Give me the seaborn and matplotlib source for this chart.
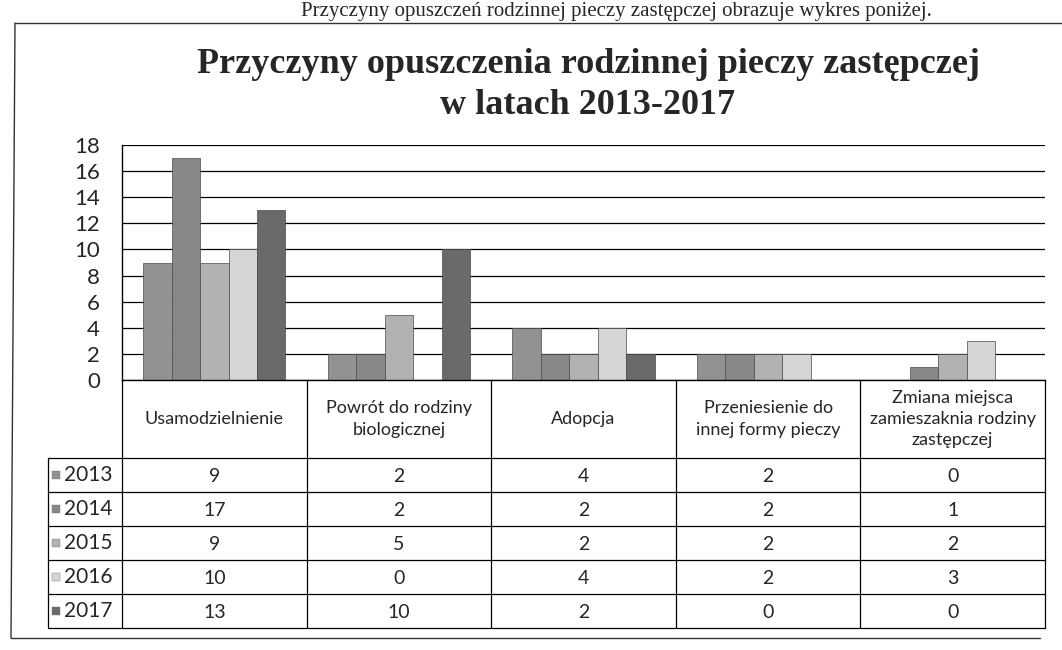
import pandas as pd
import seaborn as sns
import matplotlib.pyplot as plt
from matplotlib.lines import Line2D

categories = ["Usamodzielnienie", "Powrót do rodziny\nbiologicznej", "Adopcja",
              "Przeniesienie do\ninnej formy pieczy",
              "Zmiana miejsca\nzamieszaknia rodziny\nzastępczej"]
years = ["2013", "2014", "2015", "2016", "2017"]
v2013 = [9, 2, 4, 2, 0]
v2014 = [17, 2, 2, 2, 1]
v2015 = [9, 5, 2, 2, 2]
v2016 = [10, 0, 4, 2, 3]
v2017 = [13, 10, 2, 0, 0]
colors = ["#929292", "#888888", "#b2b2b2", "#d5d5d5", "#6a6a6a"]

series = [v2013, v2014, v2015, v2016, v2017]
rows = []
for y, vals in zip(years, series):
    for c, v in zip(categories, vals):
        rows.append({"cat": c, "year": y, "val": v})
df = pd.DataFrame(rows)

sns.set_style("white")
plt.rcParams["font.family"] = ["Lato", "DejaVu Sans"]

W, H = 1062, 650
fig = plt.figure(figsize=(W / 100, H / 100), dpi=100)

# bar chart
ax = fig.add_axes([122 / W, 1 - 380 / H, 923 / W, 235 / H])
sns.barplot(data=df, x="cat", y="val", hue="year", order=categories, hue_order=years,
            palette=colors, width=0.77, saturation=1, edgecolor="#4a4a4a", linewidth=0.5,
            legend=False, ax=ax)
ax.set_xlim(-0.5, 4.5)
ax.set_ylim(0, 18)
ax.set_yticks(range(0, 19, 2))
ax.set_xticks([])
ax.set_xlabel("")
ax.set_ylabel("")
ax.grid(axis="y", color="black", lw=0.9)
ax.set_axisbelow(True)
for s in ["top", "right"]:
    ax.spines[s].set_visible(False)
for s in ["left", "bottom"]:
    ax.spines[s].set_color("black")
    ax.spines[s].set_linewidth(1)
ax.tick_params(axis="y", length=0, pad=16, labelsize=16)

# data table under the chart
tab = fig.add_axes([122 / W, 1 - 628 / H, 923 / W, 248 / H])
tab.set_xlim(-0.5, 4.5)
tab.set_ylim(248, 0)
tab.axis("off")
head_h, row_h = 78, 34
leg_x = -0.5 - 74 / 184.6
kw = dict(color="black", lw=0.9, clip_on=False)
for i in range(6):
    tab.plot([i - 0.5, i - 0.5], [0, 248], **kw)
for r in range(6):
    yy = head_h + r * row_h
    tab.plot([leg_x, 4.5], [yy, yy], **kw)
tab.plot([leg_x, leg_x], [head_h, 248], **kw)

for i, c in enumerate(categories):
    tab.text(i, head_h / 2, c, ha="center", va="center", fontsize=13, linespacing=1.4)

for r, (y, vals) in enumerate(zip(years, series)):
    yc = head_h + r * row_h + row_h / 2
    tab.scatter([-0.5 - 66 / 184.6], [yc], marker="s", s=40, color=colors[r],
                edgecolor="#777777", linewidth=0.3, clip_on=False)
    tab.text(-0.5 - 58 / 184.6, yc, y, ha="left", va="center", fontsize=15, clip_on=False)
    for i, v in enumerate(vals):
        tab.text(i, yc + 2, str(v), ha="center", va="center", fontsize=14)

# title
fig.text(588 / W, 1 - 85 / H, "Przyczyny opuszczenia rodzinnej pieczy zastępczej\nw latach 2013-2017",
         ha="center", va="center", fontsize=26, fontweight="bold",
         family=["Liberation Serif", "DejaVu Serif"], linespacing=1.3)

# sentence from the page above the chart
fig.text(932 / W, 1 - 16 / H, "Przyczyny opuszczeń rodzinnej pieczy zastępczej obrazuje wykres poniżej.",
         ha="right", va="baseline", fontsize=15, family=["Liberation Serif", "DejaVu Serif"])

# outer frame
for xs, ys in [([15, W], [23, 23]), ([15, 11], [23, 638]), ([11, 1040], [638, 638])]:
    fig.add_artist(Line2D([x / W for x in xs], [1 - y / H for y in ys],
                          transform=fig.transFigure, color="#333333", lw=1))

fig.savefig("out.png", dpi=100)
